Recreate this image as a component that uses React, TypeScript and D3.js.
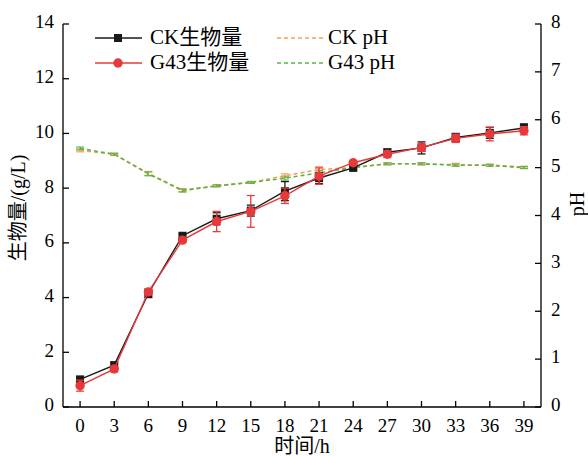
import React from "react";
import * as d3 from "d3";

const times = [0, 3, 6, 9, 12, 15, 18, 21, 24, 27, 30, 33, 36, 39];
const ckBiomass = [1.01, 1.53, 4.15, 6.26, 6.88, 7.18, 7.89, 8.37, 8.74, 9.31, 9.47, 9.85, 10.02, 10.2];
const ckBiomassErr = [0.1, 0.1, 0.15, 0.08, 0.22, 0.2, 0.35, 0.2, 0.08, 0.12, 0.22, 0.15, 0.2, 0.15];
const g43Biomass = [0.78, 1.39, 4.21, 6.1, 6.78, 7.15, 7.72, 8.44, 8.93, 9.24, 9.49, 9.82, 9.98, 10.1];
const g43BiomassErr = [0.2, 0.1, 0.1, 0.08, 0.37, 0.58, 0.28, 0.3, 0.08, 0.12, 0.15, 0.15, 0.25, 0.15];
const ckPH = [5.36, 5.28, 4.88, 4.53, 4.62, 4.69, 4.83, 4.96, 5.0, 5.08, 5.08, 5.06, 5.05, 5.01];
const ckPHErr = [0.03, 0.02, 0.04, 0.03, 0.02, 0.02, 0.04, 0.06, 0.03, 0.02, 0.02, 0.03, 0.02, 0.02];
const g43PH = [5.4, 5.28, 4.87, 4.52, 4.62, 4.69, 4.78, 4.89, 5.0, 5.08, 5.08, 5.05, 5.05, 5.0];
const g43PHErr = [0.03, 0.02, 0.04, 0.03, 0.02, 0.02, 0.04, 0.05, 0.03, 0.02, 0.02, 0.02, 0.02, 0.02];
const leftTicks = [0, 2, 4, 6, 8, 10, 12, 14];
const rightTicks = [0, 1, 2, 3, 4, 5, 6, 7, 8];
const legendLabels = ["CK生物量", "G43生物量", "CK pH", "G43 pH"];
const axisTitles = ["时间/h", "生物量/(g/L)", "pH"];

const W = 588;
const H = 456;
const FONT = "'Liberation Serif', 'Times New Roman', 'Noto Sans CJK SC', serif";
const BLACK = "#1a1a1a";
const RED = "#e8393a";
const ORANGE = "#f4a05c";
const GREEN = "#5db346";

export default function App() {
  const x = d3.scaleLinear().domain([-1.5, 40.5]).range([63, 541]);
  const yL = d3.scaleLinear().domain([0, 14]).range([407, 24]);
  const yR = d3.scaleLinear().domain([0, 8]).range([407, 24]);
  const lineL = d3.line<number>().x((_, i) => x(times[i])).y((d) => yL(d));
  const lineR = d3.line<number>().x((_, i) => x(times[i])).y((d) => yR(d));

  const errBars = (vals: number[], errs: number[], y: d3.ScaleLinear<number, number>, color: string, cap: number, sw: number) =>
    vals.map((v, i) => {
      const cx = x(times[i]);
      const y1 = y(v + errs[i]);
      const y2 = y(v - errs[i]);
      return (
        <g key={i} stroke={color} strokeWidth={sw}>
          <line x1={cx} x2={cx} y1={y1} y2={y2} />
          <line x1={cx - cap} x2={cx + cap} y1={y1} y2={y1} />
          <line x1={cx - cap} x2={cx + cap} y1={y2} y2={y2} />
        </g>
      );
    });

  return (
    <svg width={W} height={H} style={{ position: "absolute", left: 0, top: 0, background: "#fff" }} fontFamily={FONT}>
      {/* axes */}
      <g stroke="#000" strokeWidth={1.3} fill="none">
        <line x1={63} x2={63} y1={24} y2={407} />
        <line x1={541} x2={541} y1={24} y2={407} />
        <line x1={63} x2={541} y1={407} y2={407} />
        {times.map((t) => (
          <line key={"xt" + t} x1={x(t)} x2={x(t)} y1={407} y2={401} />
        ))}
        {leftTicks.map((t) => (
          <line key={"lt" + t} x1={63} x2={69} y1={yL(t)} y2={yL(t)} />
        ))}
        {rightTicks.map((t) => (
          <line key={"rt" + t} x1={541} x2={535} y1={yR(t)} y2={yR(t)} />
        ))}
      </g>
      <g fontSize={19} fill="#000">
        {times.map((t) => (
          <text key={"xl" + t} x={x(t)} y={428} textAnchor="middle" dominantBaseline="middle">{t}</text>
        ))}
        {leftTicks.map((t) => (
          <text key={"ll" + t} x={54} y={yL(t)} textAnchor="end" dominantBaseline="middle">{t}</text>
        ))}
        {rightTicks.map((t) => (
          <text key={"rl" + t} x={551} y={yR(t)} textAnchor="start" dominantBaseline="middle">{t}</text>
        ))}
      </g>
      <g fontSize={20} fill="#000">
        <text x={302} y={448} textAnchor="middle" dominantBaseline="middle">{axisTitles[0]}</text>
        <text transform={`translate(20,208) rotate(-90)`} textAnchor="middle" dominantBaseline="middle">{axisTitles[1]}</text>
        <text transform={`translate(579,204) rotate(-90)`} textAnchor="middle" dominantBaseline="middle">{axisTitles[2]}</text>
      </g>

      {/* pH series */}
      <g>
        {errBars(ckPH, ckPHErr, yR, ORANGE, 4, 1.2)}
        {errBars(g43PH, g43PHErr, yR, GREEN, 4, 1.2)}
        <path d={lineR(ckPH) || ""} fill="none" stroke={ORANGE} strokeWidth={1.6} strokeDasharray="4,3" />
        <path d={lineR(g43PH) || ""} fill="none" stroke={GREEN} strokeWidth={1.6} strokeDasharray="4,3" />
      </g>

      {/* biomass CK */}
      <g>
        <path d={lineL(ckBiomass) || ""} fill="none" stroke={BLACK} strokeWidth={1.4} />
        {errBars(ckBiomass, ckBiomassErr, yL, BLACK, 4, 1.3)}
        {ckBiomass.map((v, i) => (
          <rect key={i} x={x(times[i]) - 4} y={yL(v) - 4} width={8} height={8} fill={BLACK} />
        ))}
      </g>
      {/* biomass G43 */}
      <g>
        <path d={lineL(g43Biomass) || ""} fill="none" stroke={RED} strokeWidth={1.4} />
        {errBars(g43Biomass, g43BiomassErr, yL, RED, 4, 1.3)}
        {g43Biomass.map((v, i) => (
          <circle key={i} cx={x(times[i])} cy={yL(v)} r={4.7} fill={RED} />
        ))}
      </g>

      {/* legend */}
      <g fontSize={21} fill="#000">
        <line x1={95} x2={142} y1={38} y2={38} stroke={BLACK} strokeWidth={1.4} />
        <rect x={114} y={34} width={8} height={8} fill={BLACK} />
        <text x={150} y={39} dominantBaseline="middle">{legendLabels[0]}</text>
        <line x1={95} x2={142} y1={63} y2={63} stroke={RED} strokeWidth={1.4} />
        <circle cx={118} cy={63} r={4.7} fill={RED} />
        <text x={150} y={64} dominantBaseline="middle">{legendLabels[1]}</text>
        <line x1={277} x2={325} y1={38} y2={38} stroke={ORANGE} strokeWidth={1.6} strokeDasharray="4,3" />
        <text x={328} y={39} dominantBaseline="middle">{legendLabels[2]}</text>
        <line x1={277} x2={325} y1={63} y2={63} stroke={GREEN} strokeWidth={1.6} strokeDasharray="4,3" />
        <text x={328} y={64} dominantBaseline="middle">{legendLabels[3]}</text>
      </g>
    </svg>
  );
}
